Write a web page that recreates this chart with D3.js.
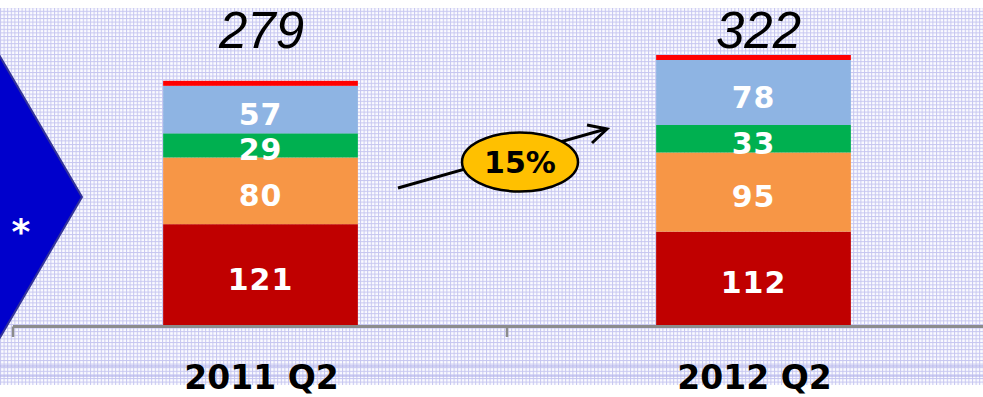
<!DOCTYPE html>
<html><head><meta charset="utf-8">
<script src="https://cdn.jsdelivr.net/npm/d3@7"></script>
<style>html,body{margin:0;padding:0;background:#fff;overflow:hidden}</style>
</head><body><div id="chart"></div>
<script>
const categories = ["2011 Q2", "2012 Q2"];
const serieNames = ["s1", "s2", "s3", "s4", "s5"];
const s1Values = [121, 112];
const s2Values = [80, 95];
const s3Values = [29, 33];
const s4Values = [57, 78];
const s5Values = [6, 6];
const totalLabels = ["279", "322"];
const growthLabel = "15%";
const markLabel = "*";

const W = 983, H = 397;
const colors = ["#c00000", "#f79646", "#00b050", "#8eb4e3", "#ff0000"];
const seriesValues = [s1Values, s2Values, s3Values, s4Values, s5Values];

const svg = d3.select("#chart").append("svg").attr("width", W).attr("height", H);
const defs = svg.append("defs");
const pat = defs.append("pattern").attr("id", "grid").attr("patternUnits", "userSpaceOnUse")
  .attr("width", 3.6).attr("height", 3.6);
pat.append("rect").attr("width", 3.6).attr("height", 3.6).attr("fill", "#fbfbff");
pat.append("rect").attr("x", 0).attr("y", 0).attr("width", 1).attr("height", 3.6).attr("fill", "#c6c6f0");
pat.append("rect").attr("x", 0).attr("y", 0).attr("width", 3.6).attr("height", 1).attr("fill", "#c6c6f0");

svg.append("rect").attr("x", 0).attr("y", 8).attr("width", W).attr("height", 377).attr("fill", "url(#grid)");
[366, 376].forEach(yy => svg.append("rect").attr("x", 0).attr("y", yy - 1).attr("width", W).attr("height", 2)
  .attr("fill", "#b4b4ea").attr("opacity", 0.6));

// chevron
svg.append("polygon").attr("points", "-5,48 82,197 -5,346")
  .attr("fill", "#0000cc").attr("stroke", "#333399").attr("stroke-width", 2);
svg.append("text").attr("x", 21).attr("y", 244).attr("text-anchor", "middle")
  .attr("font-family", "DejaVu Sans").attr("font-weight", "bold").attr("font-size", 36)
  .attr("fill", "#fff").text(markLabel);

const x = d3.scaleBand().domain(categories).range([14, 1000]).paddingInner(0.605).paddingOuter(0.3025);
const y = d3.scaleLinear().domain([0, 390]).range([325, 0]);

const stackData = categories.map((c, i) => {
  const o = { cat: c };
  serieNames.forEach((s, k) => o[s] = seriesValues[k][i]);
  return o;
});
const stacked = d3.stack().keys(serieNames)(stackData);

const g = svg.append("g");
stacked.forEach((layer, k) => {
  g.selectAll(null).data(layer).enter().append("rect")
    .attr("x", d => x(d.data.cat)).attr("width", x.bandwidth())
    .attr("y", d => y(d[1])).attr("height", d => y(d[0]) - y(d[1]))
    .attr("fill", colors[k]);
});
// value labels (first four series)
stacked.slice(0, 4).forEach((layer, k) => {
  g.selectAll(null).data(layer).enter().append("text")
    .attr("x", d => x(d.data.cat) + x.bandwidth() / 2)
    .attr("y", d => (y(d[0]) + y(d[1])) / 2 + 15)
    .attr("text-anchor", "middle")
    .attr("font-family", "DejaVu Sans").attr("font-weight", "bold").attr("font-size", 30)
    .attr("letter-spacing", 1)
    .attr("fill", "#fff").text(d => d[1] - d[0]);
});
// totals
g.selectAll(null).data(categories).enter().append("text")
  .attr("x", (d, i) => x(d) + x.bandwidth() / 2 + 1 + i * 4)
  .attr("y", 48).attr("text-anchor", "middle")
  .attr("font-family", "Liberation Sans").attr("font-style", "italic").attr("font-size", 51)
  .attr("fill", "#000").text((d, i) => totalLabels[i]);

// axis
const axisY = 326.5;
svg.append("line").attr("x1", 13).attr("x2", W).attr("y1", axisY).attr("y2", axisY)
  .attr("stroke", "#8c8c8c").attr("stroke-width", 3);
const boundaries = [x.range()[0] - 1, x(categories[1]) - x.step() * x.paddingInner() / 2];
boundaries.forEach(bx => svg.append("line").attr("x1", bx).attr("x2", bx)
  .attr("y1", axisY).attr("y2", 337).attr("stroke", "#8c8c8c").attr("stroke-width", 2.5));
svg.selectAll(null).data(categories).enter().append("text")
  .attr("x", d => x(d) + x.bandwidth() / 2 + 1)
  .attr("y", 389).attr("text-anchor", "middle")
  .attr("font-family", "DejaVu Sans").attr("font-weight", "bold").attr("font-size", 33)
  .attr("fill", "#000").text(d => d);

// growth arrow
const arr = svg.append("g");
arr.append("line").attr("x1", 398).attr("y1", 188).attr("x2", 606).attr("y2", 129)
  .attr("stroke", "#000").attr("stroke-width", 3);
arr.append("polyline").attr("points", "587,125 607,129 592,143")
  .attr("fill", "none").attr("stroke", "#000").attr("stroke-width", 3).attr("stroke-linejoin", "miter");
arr.append("ellipse").attr("cx", 520).attr("cy", 162).attr("rx", 58).attr("ry", 29.5)
  .attr("fill", "#ffc000").attr("stroke", "#000").attr("stroke-width", 2.5);
arr.append("text").attr("x", 520).attr("y", 173).attr("text-anchor", "middle")
  .attr("font-family", "DejaVu Sans").attr("font-weight", "bold").attr("font-size", 30)
  .attr("fill", "#000").text(growthLabel);
</script></body></html>
